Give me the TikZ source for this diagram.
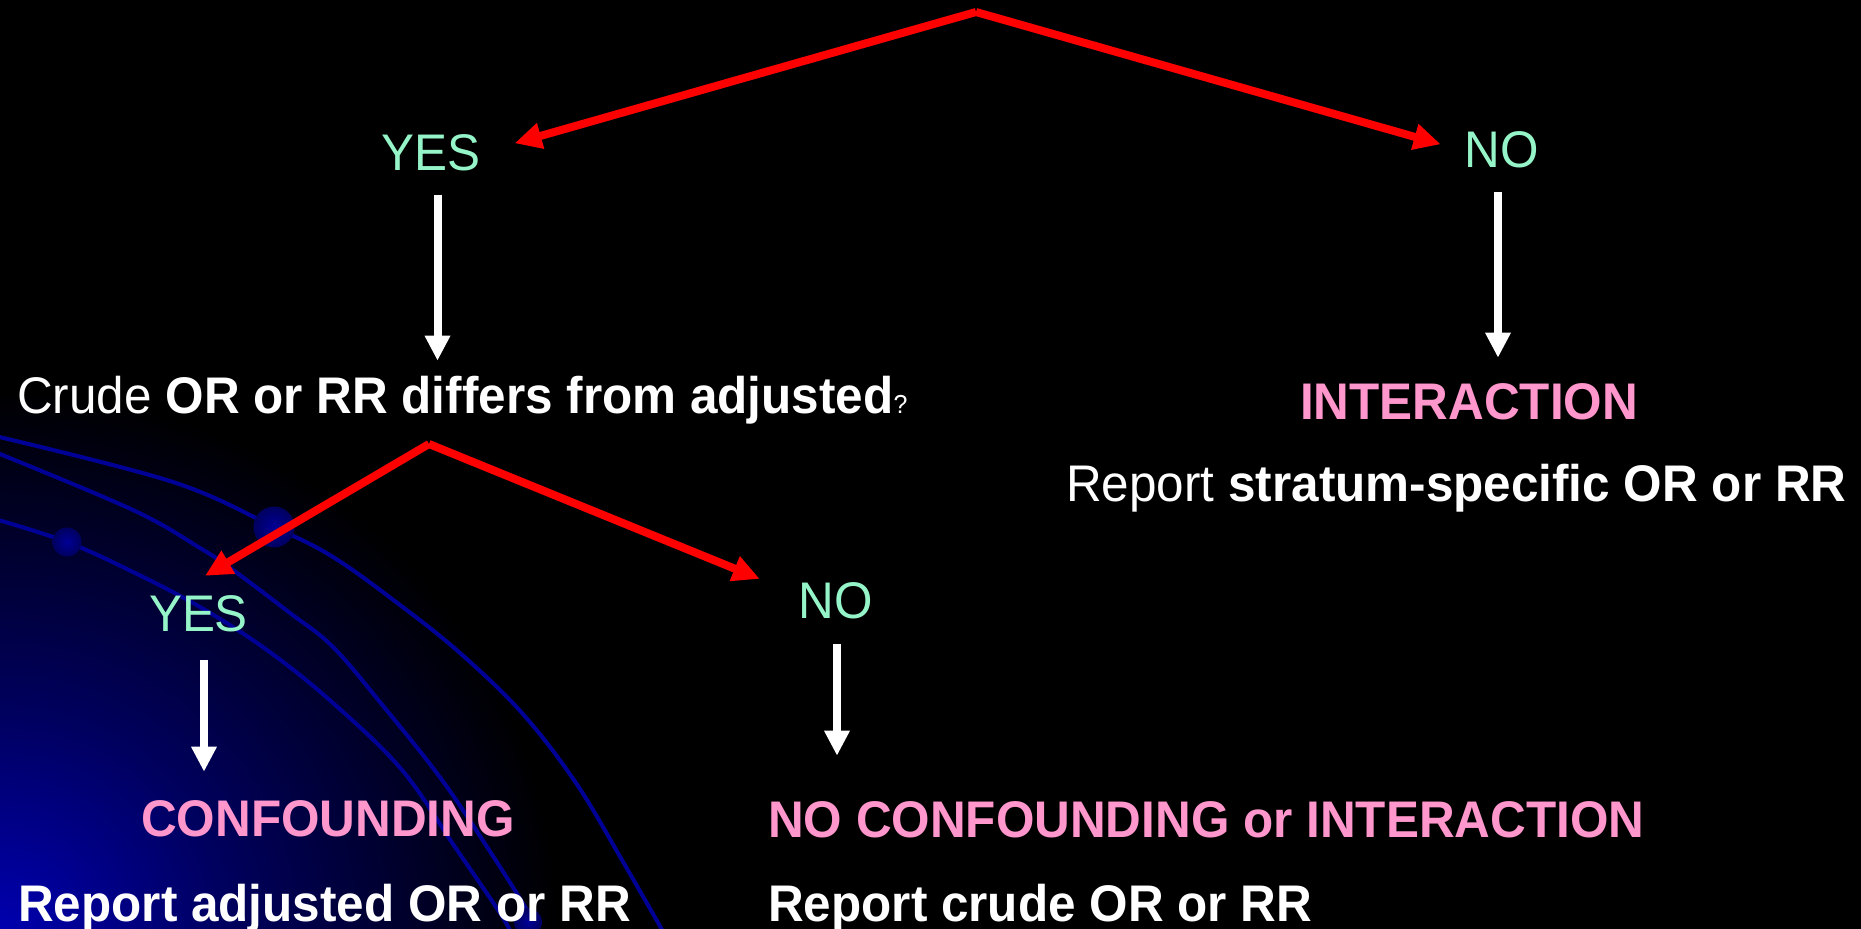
\documentclass[tikz,border=0pt]{standalone}
\usepackage{fontspec}
\setmainfont{Liberation Sans}[FakeStretch=0.96]
\usetikzlibrary{arrows.meta}

\definecolor{mint}{RGB}{150,245,200}
\definecolor{pinkc}{RGB}{255,150,204}
\definecolor{arrred}{RGB}{255,0,0}
\definecolor{orbitblue}{RGB}{0,0,150}
\definecolor{glowblue}{RGB}{0,0,175}
\definecolor{glowmid}{RGB}{0,0,95}
\definecolor{dotlight}{RGB}{0,0,150}
\definecolor{dotdark}{RGB}{0,0,95}

\pgfdeclareradialshading{cornerglow}{\pgfpoint{0bp}{0bp}}{%
  color(0bp)=(glowblue); color(10bp)=(glowmid); color(25bp)=(black); color(50bp)=(black)}

\tikzset{
  lbl/.style={inner sep=0pt, anchor=base, text=white, font=\fontsize{51.5}{58}\selectfont},
  choice/.style={lbl, text=mint},
  verdict/.style={lbl, text=pinkc, font=\fontsize{51.5}{58}\selectfont\bfseries},
  boldlbl/.style={lbl, font=\fontsize{51.5}{58}\selectfont\bfseries},
  redarr/.style={draw=arrred, line width=8pt, -{Triangle[length=27pt,width=25pt]}},
  whitearr/.style={draw=white, line width=8pt, -{Triangle[length=25pt,width=24pt]}},
  orbit/.style={draw=orbitblue, line width=4pt},
  planet/.style={inner color=dotlight, outer color=dotdark}
}

\begin{document}
\begin{tikzpicture}[x=1pt, y=-1pt]
  % canvas
  \fill[black] (0,0) rectangle (1861,929);
  \useasboundingbox (0,0) rectangle (1861,929);

  % blue glow in the lower left corner
  \begin{scope}
    \clip (0,0) rectangle (1861,929);
    \shade[shading=cornerglow] (0,929) ellipse [x radius=560pt, y radius=540pt];
    % orbits
    \draw[orbit] plot[smooth, tension=0.6] coordinates
      {(-5,436) (173,482) (274,527) (333,557) (400,605) (460,653) (522,713) (576,783) (622,860) (665,935)};
    \draw[orbit] plot[smooth, tension=0.6] coordinates
      {(-5,452) (133,510) (200,548) (233,570) (290,613) (333,647) (384,707) (442,780) (491,853) (527,910) (540,935)};
    \draw[orbit] plot[smooth, tension=0.6] coordinates
      {(-5,519) (67,542) (133,572) (200,607) (267,650) (333,703) (402,770) (455,847) (500,913) (512,935)};
    % planets on the orbits
    \shade[planet] (274,527) circle[radius=20.5pt];
    \shade[planet] (67,542) circle[radius=14.5pt];
    \shade[planet] (528,922) circle[radius=14pt];
  \end{scope}

  % first question branches
  \coordinate (apex1) at (976,12);
  \node[choice] (yes1) at (431,170) {YES};
  \node[choice] (no1) at (1502,167) {NO};

  \node[lbl, anchor=base west] (crude) at (17,413)
    {Crude \textbf{OR or RR differs from adjusted}{\fontsize{26}{28}\selectfont ?}};
  \node[verdict] (inter) at (1469,419) {INTERACTION};
  \node[lbl, anchor=base west] (strat) at (1066,501)
    {Report \textbf{stratum-specific OR or RR}};

  % second question branches
  \coordinate (apex2) at (429,444);
  \node[choice] (yes2) at (198.5,631) {YES};
  \node[choice] (no2) at (836,618) {NO};

  \node[verdict] (conf) at (328,836) {CONFOUNDING};
  \node[verdict, anchor=base west] (noconf) at (768,837) {NO CONFOUNDING or INTERACTION};
  \node[boldlbl, anchor=base west] (adj) at (18,921) {Report adjusted OR or RR};
  \node[boldlbl, anchor=base west] (crudeok) at (768,921) {Report crude OR or RR};

  % connectors
  \draw[redarr] (apex1) -- ([xshift=34pt,yshift=9pt]yes1.east);
  \draw[redarr] (apex1) -- ([xshift=-24pt,yshift=5pt]no1.west);
  \draw[whitearr] ([xshift=6.5pt,yshift=-24pt]yes1.south) -- ([xshift=6.5pt,yshift=-190pt]yes1.south);
  \draw[whitearr] ([xshift=-4pt,yshift=-24pt]no1.south) -- ([xshift=-4pt,yshift=-190pt]no1.south);

  \draw[redarr] (apex2) -- ([xshift=6.5pt,yshift=19pt]yes2.north);
  \draw[redarr] (apex2) -- ([xshift=-39pt,yshift=3pt]no2.north west);
  \draw[whitearr] ([xshift=5.5pt,yshift=-28pt]yes2.south) -- ([xshift=5.5pt,yshift=-140pt]yes2.south);
  \draw[whitearr] ([xshift=1pt,yshift=-25pt]no2.south) -- ([xshift=1pt,yshift=-137pt]no2.south);
\end{tikzpicture}
\end{document}
